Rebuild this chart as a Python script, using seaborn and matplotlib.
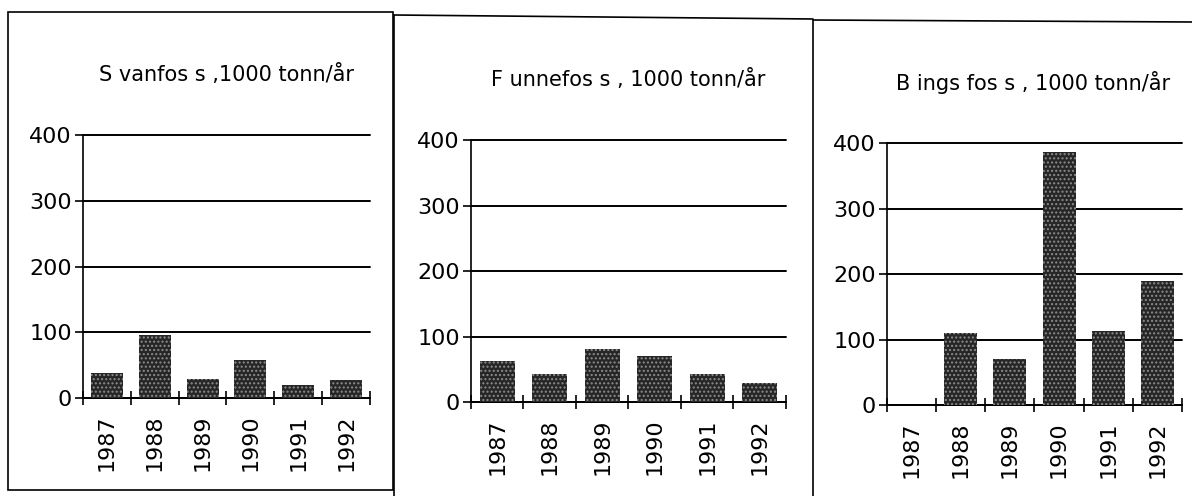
import matplotlib
matplotlib.use("Agg")
import matplotlib.pyplot as plt
from matplotlib.patches import Rectangle
from matplotlib.lines import Line2D
import numpy as np
import pandas as pd
import seaborn as sns

years = ["1987", "1988", "1989", "1990", "1991", "1992"]
svanfoss = [38, 96, 29, 58, 20, 27]
funnefoss = [63, 43, 81, 70, 43, 29]
bingsfoss = [0, 110, 70, 386, 113, 189]

titles = ["S vanfos s ,1000 tonn/år",
          "F unnefos s , 1000 tonn/år",
          "B ings fos s , 1000 tonn/år"]
yticks = [0, 100, 200, 300, 400]

sns.set_theme(style="white")
plt.rcParams['font.family'] = ['DejaVu Sans']
plt.rcParams['text.color'] = 'black'
plt.rcParams['xtick.color'] = 'black'
plt.rcParams['ytick.color'] = 'black'

fig = plt.figure(figsize=(11.92, 4.96), dpi=100)

# axes rectangles (figure fractions)
positions = [
    [0.0696, 0.1976, 0.2408, 0.530],
    [0.3951, 0.1895, 0.2643, 0.528],
    [0.7441, 0.1835, 0.2475, 0.528],
]
title_xy = [(0.190, 0.849), (0.527, 0.839), (0.867, 0.833)]

for pos, vals, title, txy in zip(positions, [svanfoss, funnefoss, bingsfoss], titles, title_xy):
    ax = fig.add_axes(pos)
    df = pd.DataFrame({"year": years, "value": vals})
    sns.barplot(data=df, x="year", y="value", ax=ax, order=years,
                width=0.67, color="#262626", saturation=1, linewidth=0)
    for p in ax.patches:
        p.set_hatch("....")
        p.set_edgecolor("#262626")
        try:
            p.set_hatchcolor("#8c8c8c")
        except AttributeError:
            p.set_edgecolor("#8c8c8c")
        p.set_linewidth(0)
        p.set_zorder(3)

    ax.set_xlim(-0.5, 5.5)
    ax.set_ylim(0, 400)
    ax.set_yticks(yticks)
    ax.set_yticklabels([str(t) for t in yticks], fontsize=16)
    ax.set_xlabel("")
    ax.set_ylabel("")
    ax.yaxis.grid(True, color="black", linewidth=1.4)
    ax.set_axisbelow(True)
    for gl in ax.get_ygridlines():
        gl.set_clip_on(False)

    # x ticks: labels at centres, marks at boundaries
    ax.set_xticks(range(len(years)))
    ax.set_xticklabels(years, rotation=90, fontsize=16)
    ax.set_xticks(np.arange(-0.5, 6, 1.0), minor=True)
    ax.tick_params(axis="x", which="major", length=0, pad=12)
    ax.tick_params(axis="x", which="minor", direction="inout", length=10,
                   width=1.2, color="black", bottom=True)
    ax.tick_params(axis="y", which="major", direction="out", length=6,
                   width=1.2, color="black", left=True, pad=2)

    for side in ["top", "right"]:
        ax.spines[side].set_visible(False)
    for side in ["left", "bottom"]:
        ax.spines[side].set_color("black")
        ax.spines[side].set_linewidth(1.2)

    fig.text(txy[0], txy[1], title, ha="center", va="center", fontsize=15)

# panel frames
frame_kw = dict(color="black", linewidth=1.2)
fig.add_artist(Rectangle((8 / 1192, 1 - 490 / 496), 385 / 1192, 478 / 496,
                         fill=False, edgecolor="black", linewidth=1.2,
                         transform=fig.transFigure))
fig.add_artist(Line2D([394 / 1192, 813 / 1192], [1 - 15 / 496, 1 - 19 / 496],
                      transform=fig.transFigure, **frame_kw))
fig.add_artist(Line2D([394 / 1192, 394 / 1192], [1 - 15 / 496, 0.0],
                      transform=fig.transFigure, **frame_kw))
fig.add_artist(Line2D([813 / 1192, 1.0], [1 - 20 / 496, 1 - 22 / 496],
                      transform=fig.transFigure, **frame_kw))
fig.add_artist(Line2D([813 / 1192, 813 / 1192], [1 - 20 / 496, 0.0],
                      transform=fig.transFigure, **frame_kw))

fig.savefig("out.png", dpi=100, facecolor="white")
